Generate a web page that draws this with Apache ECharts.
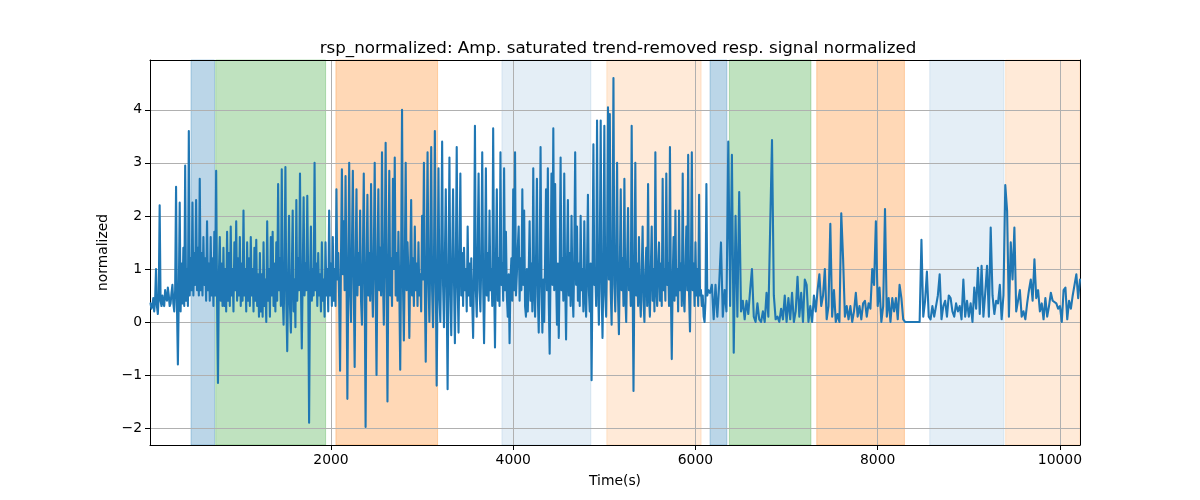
<!DOCTYPE html>
<html><head><meta charset="utf-8">
<script src="https://cdn.jsdelivr.net/npm/echarts@6/dist/echarts.min.js"></script>
<style>html,body{margin:0;padding:0;background:#fff}#c{width:1200px;height:500px}</style>
</head><body><div id="c"></div>
<script>
// first part of the record (busy section), sampled every 10 s
const denseStart = 20;
const denseStep = 10;
const denseValues = [
 0.35,0.25,0.3,0.45,0.2,0.4,1.0,0.3,0.15,0.5,2.2,0.4,0.3,0.5,0.35,0.3,0.6,0.45,0.4,0.65,0.5,0.3,0.35,0.55,0.7,0.35,0.2,0.6,2.55,0.3,-0.8,0.5,2.25,0.2,1.1,0.35,1.4,0.3,2.95,0.4,
 1.0,0.3,3.6,0.5,1.2,0.6,2.25,0.5,1.3,0.7,2.3,0.6,1.4,0.5,2.7,0.6,1.3,0.5,1.6,0.7,1.2,0.4,1.9,0.6,1.1,0.4,1.6,0.5,1.2,0.3,1.7,0.5,2.85,0.4,-1.15,0.9,1.6,0.4,1.1,0.3,
 1.4,0.3,1.0,0.2,1.7,0.4,1.3,0.3,1.8,0.5,1.0,0.2,1.5,0.6,1.9,0.4,1.2,0.5,1.6,0.3,1.1,0.4,2.1,0.5,1.0,0.2,1.5,0.4,1.2,0.3,1.6,0.5,1.0,0.2,1.4,0.4,1.55,0.3,0.9,0.1,
 1.3,0.2,0.9,0.1,1.5,0.3,0.8,0.0,1.9,0.4,1.0,0.1,1.6,0.5,1.7,0.3,1.1,0.2,1.5,0.4,2.6,0.6,1.2,0.3,2.88,0.5,-0.05,1.0,2.92,0.4,-0.55,0.8,2.0,0.3,-0.2,0.9,2.1,0.2,0.8,-0.1,
 2.3,0.4,1.2,0.6,2.8,0.7,-0.5,0.9,2.35,0.5,1.1,0.6,2.38,0.8,-1.9,0.7,1.8,0.4,1.0,0.5,3.0,0.6,1.1,0.3,1.3,0.5,0.9,0.2,1.5,0.4,0.8,0.1,1.5,0.5,1.0,0.2,2.1,0.5,1.1,0.3,
 1.6,0.4,1.0,0.3,2.5,0.8,1.3,0.4,-0.92,1.2,2.88,0.9,1.9,0.6,2.75,1.0,-1.45,0.8,3.0,0.6,0.0,1.4,2.85,0.7,-0.85,1.1,2.5,0.5,1.3,0.7,2.1,0.4,-0.05,1.2,2.8,0.6,-1.98,1.0,2.4,0.5,
 1.3,0.4,2.6,0.8,0.1,1.2,3.0,0.7,-1.0,1.1,2.5,0.6,1.4,0.5,3.2,0.9,-0.05,1.3,3.38,0.8,-1.5,1.0,2.85,0.5,1.2,0.3,2.7,1.0,3.1,0.5,1.3,0.4,1.7,0.6,-0.9,1.2,4.0,0.7,-0.35,1.1,
 3.0,0.6,1.5,0.9,-0.3,1.0,2.3,0.5,1.2,0.3,1.8,0.6,1.1,0.3,1.5,0.5,0.9,0.2,2.0,0.8,3.0,0.6,-0.75,1.1,3.2,0.8,0.0,1.2,3.3,0.6,-0.1,1.0,3.6,0.9,-1.2,0.7,2.9,0.5,0.0,1.3,
 3.4,0.7,-0.1,1.2,2.5,0.5,-1.27,1.0,3.1,0.6,-0.25,1.1,2.5,0.8,-0.4,1.0,3.3,0.7,-0.2,1.2,2.8,0.5,1.3,0.3,1.4,0.6,1.0,0.2,1.8,0.5,1.1,0.3,1.2,0.4,-0.3,1.0,3.7,0.6,0.1,1.3,
 2.8,0.6,0.2,1.2,3.2,0.7,-0.4,0.9,2.9,0.5,1.3,0.4,2.1,0.6,1.0,0.3,3.65,0.8,-0.48,1.1,2.5,0.4,1.2,0.3,3.2,0.7,1.1,0.4,2.9,0.6,1.7,0.5,0.1,0.9,-0.4,0.8,1.2,0.4,2.5,0.6,
 3.2,0.5,0.9,1.4,1.8,0.4,1.2,0.6,2.5,0.7,2.1,0.3,0.1,1.0,0.2,0.9,1.9,0.4,1.1,0.2,2.9,0.6,0.1,1.1,2.7,0.5,-0.2,1.0,3.3,0.7,-0.2,0.8,0.0,1.2,2.5,0.6,2.9,0.4,-0.6,1.0,
 2.8,0.7,3.65,0.6,2.6,0.9,-0.05,1.1,-0.3,1.0,3.1,0.6,1.2,0.4,2.8,0.8,-0.33,1.1,2.3,0.5,1.3,0.3,2.0,0.6,0.1,1.2,3.2,0.7,1.8,0.4,1.1,0.3,2.0,0.6,1.0,0.2,1.9,0.5,0.1,1.0,
 2.4,0.6,0.2,1.1,-1.1,0.9,3.35,0.7,1.0,0.3,3.8,0.8,-0.05,1.2,3.8,0.6,-0.3,1.0,3.7,0.5,0.1,1.3,4.05,0.8,3.92,0.6,-0.05,1.4,4.6,0.7,0.2,1.2,3.0,0.5,-0.23,1.0,2.5,0.6,1.2,0.3,
 2.7,0.5,0.0,1.1,2.15,0.6,1.0,0.3,3.7,0.8,-1.3,0.9,3.0,0.5,1.1,0.3,1.6,0.5,0.1,0.9,1.8,0.4,0.0,0.9,1.4,0.3,2.6,0.5,0.1,1.0,1.8,0.4,1.0,0.2,3.2,0.6,0.3,1.1,1.5,0.4,
 1.1,0.3,2.7,0.6,1.0,0.4,2.8,0.7,1.1,0.3,3.3,0.6,-0.7,0.8,1.6,0.4,2.1,0.5,1.0,0.2,2.1,0.6,1.1,0.3,2.8,0.5,0.2,1.0,1.8,0.6,3.15,0.5,-0.18,1.0,3.2,0.6,1.1,0.3,1.5,0.5,
 1.0,0.3,2.4,0.5,0.6,0.3,0.5,0.1,0.0,0.4,2.6,0.5
];
// second part of the record (quieter section), sampled every 20 s
const sparseStart = 6140;
const sparseStep = 20;
const sparseValues = [
 0.6,0.55,0.7,0.05,0.7,0.1,0.7,1.5,0.1,0.6,0.2,3.4,0.3,3.15,
 -0.58,2.0,0.1,2.45,0.2,0.4,0.05,0.4,0.15,0.6,1.0,0.1,0.0,0.35,0.05,0.0,0.2,0.0,0.55,0.1,
 1.8,3.43,0.5,0.05,0.1,0.0,0.25,0.05,0.5,0.0,0.45,0.05,0.55,0.0,0.2,0.85,0.1,0.55,0.0,0.8,
 0.7,0.0,0.3,0.0,0.5,0.2,0.6,0.9,0.3,0.5,1.0,0.05,0.3,1.85,0.1,0.6,0.0,0.15,0.0,2.05,
 1.2,0.1,0.3,0.05,0.3,0.0,0.2,0.55,0.1,0.3,0.05,0.35,0.4,0.1,0.35,0.25,1.0,0.7,1.9,0.3,
 0.65,0.0,0.3,2.13,0.1,0.45,0.0,0.45,0.2,0.45,0.05,0.7,0.45,0.05,0.0,0.0,0.0,0.0,0.0,0.0,
 0.0,0.0,0.0,1.55,0.1,0.4,0.95,0.1,0.05,0.3,0.1,0.3,0.5,0.9,0.05,0.3,0.4,0.1,0.5,0.45,
 0.2,0.1,0.35,0.2,0.3,0.05,0.8,0.1,0.4,0.1,0.35,0.0,0.65,0.25,1.02,0.15,1.06,0.1,0.55,1.06,
 0.1,1.78,0.5,0.15,0.4,0.35,0.7,0.05,0.5,2.58,2.1,0.1,1.5,0.8,1.78,0.2,0.4,0.6,0.1,0.2,
 0.05,0.35,0.6,0.8,0.4,1.18,0.45,0.6,0.2,0.35,0.05,0.45,0.1,0.3,0.55,0.4,0.4,0.35,0.25,0.3,
 0.0,0.6,0.65,0.05,0.4,0.25,0.5,0.7,0.9,0.45,0.8
];
// shaded intervals: [start, end, kind]
const spans = [
 [464, 722, 'blue'],
 [735, 1941, 'green'],
 [2054, 3170, 'orange'],
 [3876, 4852, 'lightblue'],
 [5027, 6062, 'lightorange'],
 [6160, 6345, 'blue'],
 [6372, 7267, 'green'],
 [7331, 8293, 'orange'],
 [8571, 9386, 'lightblue'],
 [9404, 10220, 'lightorange']
];
const xTicks = [2000, 4000, 6000, 8000, 10000];
const yTicks = [-2, -1, 0, 1, 2, 3, 4];
const titleText = 'rsp_normalized: Amp. saturated trend-removed resp. signal normalized';
const xName = 'Time(s)';
const yName = 'normalized';

const spanColors = {
  blue: 'rgba(31,119,180,0.3)',
  green: 'rgba(44,160,44,0.3)',
  orange: 'rgba(255,127,14,0.3)',
  lightblue: 'rgba(31,119,180,0.12)',
  lightorange: 'rgba(255,127,14,0.16)'
};
const FONT = 'DejaVu Sans';
const linePts = denseValues.map((v, i) => [denseStart + i * denseStep, v])
  .concat(sparseValues.map((v, i) => [sparseStart + i * sparseStep, v]));
const fmt = v => String(v).replace('-', '\u2212');

const chart = echarts.init(document.getElementById('c'), null, {renderer: 'canvas'});
chart.setOption({
  animation: false,
  backgroundColor: '#fff',
  title: {
    text: titleText, left: 613, top: 35, textAlign: 'center',
    textStyle: {fontFamily: FONT, fontSize: 16.7, fontWeight: 'normal', color: '#000'}
  },
  grid: {left: 150, right: 120, top: 60, bottom: 55, containLabel: false},
  xAxis: [{
    type: 'value', min: 14, max: 10220, z: 2,
    name: xName, nameLocation: 'middle', nameGap: 29,
    nameTextStyle: {fontFamily: FONT, fontSize: 13.9, color: '#000'},
    axisLine: {show: true, onZero: false, lineStyle: {color: '#000', width: 1}},
    axisTick: {show: true, length: 5, customValues: xTicks, lineStyle: {color: '#000', width: 1}},
    axisLabel: {customValues: xTicks, margin: 8, fontFamily: FONT, fontSize: 13.9, color: '#000', formatter: fmt},
    splitLine: {show: true, lineStyle: {color: '#b0b0b0', width: 1}}
  }, {
    type: 'value', min: 14, max: 10220, position: 'top', z: 2,
    axisLine: {show: true, onZero: false, lineStyle: {color: '#000', width: 1}},
    axisTick: {show: false}, axisLabel: {show: false}, splitLine: {show: false}
  }],
  yAxis: [{
    type: 'value', min: -2.32, max: 4.94, z: 2,
    name: yName, nameLocation: 'middle', nameGap: 37, nameRotate: 90,
    nameTextStyle: {fontFamily: FONT, fontSize: 13.9, color: '#000'},
    axisLine: {show: true, onZero: false, lineStyle: {color: '#000', width: 1}},
    axisTick: {show: true, length: 5, customValues: yTicks, lineStyle: {color: '#000', width: 1}},
    axisLabel: {customValues: yTicks, margin: 8, fontFamily: FONT, fontSize: 13.9, color: '#000', formatter: fmt},
    splitLine: {show: true, lineStyle: {color: '#b0b0b0', width: 1}}
  }, {
    type: 'value', min: -2.32, max: 4.94, position: 'right', z: 2,
    axisLine: {show: true, onZero: false, lineStyle: {color: '#000', width: 1}},
    axisTick: {show: false}, axisLabel: {show: false}, splitLine: {show: false}
  }],
  series: [{
    type: 'line', name: 'spans', data: [], z: 1, silent: true,
    markArea: {
      silent: true, z: 1,
      data: spans.map(s => [
        {xAxis: s[0], itemStyle: {color: spanColors[s[2]], borderColor: spanColors[s[2]], borderWidth: 1}},
        {xAxis: s[1]}
      ])
    }
  }, {
    type: 'line', name: 'signal', data: linePts, z: 3,
    showSymbol: false, symbol: 'none', silent: true,
    lineStyle: {color: '#1f77b4', width: 2.1, join: 'round', cap: 'round'}
  }]
});
</script></body></html>
